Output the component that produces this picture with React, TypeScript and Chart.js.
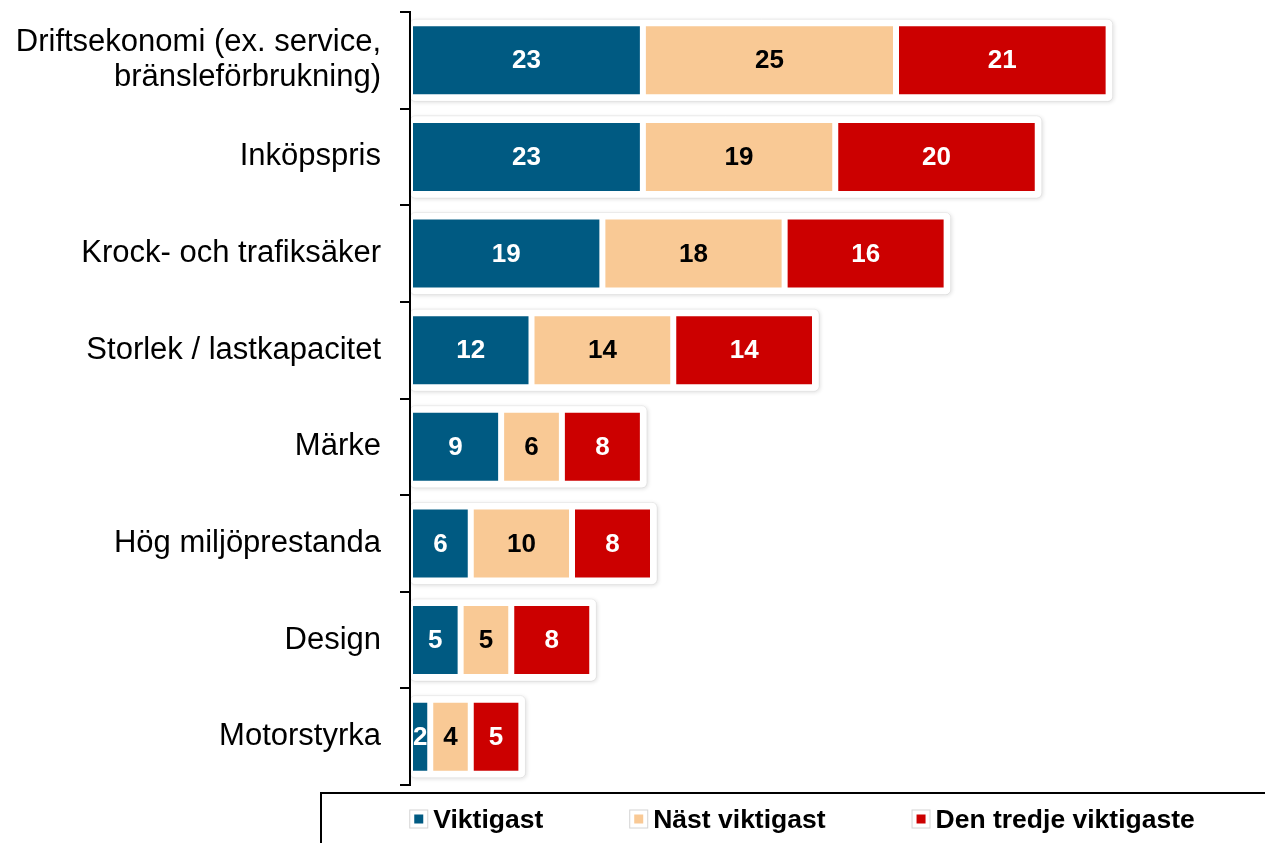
import React, { useEffect, useRef } from 'react';
import { Chart, registerables } from 'chart.js';

Chart.register(...registerables);

const categories: (string | string[])[] = [
  ['Driftsekonomi (ex. service,', 'bränsleförbrukning)'],
  'Inköpspris',
  'Krock- och trafiksäker',
  'Storlek / lastkapacitet',
  'Märke',
  'Hög miljöprestanda',
  'Design',
  'Motorstyrka',
];
const viktigast = [23, 23, 19, 12, 9, 6, 5, 2];
const nastViktigast = [25, 19, 18, 14, 6, 10, 5, 4];
const tredjeViktigaste = [21, 20, 16, 14, 8, 8, 8, 5];
const seriesLabels = ['Viktigast', 'Näst viktigast', 'Den tredje viktigaste'];
const seriesColors = ['#005A82', '#F9C995', '#CC0000'];
const valueLabelColors = ['#ffffff', '#000000', '#ffffff'];

const FONT = '"Liberation Sans", Arial, Helvetica, sans-serif';

const groupShadow = {
  id: 'groupShadow',
  beforeDatasetsDraw(chart: any) {
    const ctx = chart.ctx;
    const xs = chart.scales.x;
    const ys = chart.scales.y;
    const n = chart.data.datasets.length;
    const meta = chart.getDatasetMeta(n - 1);
    ctx.save();
    meta.data.forEach((el: any, i: number) => {
      const total = chart.data.datasets.reduce((s: number, d: any) => s + (d.data[i] as number), 0);
      const x0 = xs.getPixelForValue(0);
      const x1 = xs.getPixelForValue(total) + 4;
      const h = el.height;
      const yc = ys.getPixelForValue(i);
      ctx.beginPath();
      ctx.roundRect(x0, yc - h / 2 - 4, x1 - x0, h + 8, 5);
      ctx.shadowColor = 'rgba(0,0,0,0.14)';
      ctx.shadowBlur = 4;
      ctx.shadowOffsetX = 1;
      ctx.shadowOffsetY = 1;
      ctx.fillStyle = '#ffffff';
      ctx.fill();
      ctx.shadowColor = 'transparent';
      ctx.strokeStyle = 'rgba(0,0,0,0.06)';
      ctx.lineWidth = 1;
      ctx.stroke();
    });
    ctx.restore();
  },
};

const valueLabels = {
  id: 'valueLabels',
  afterDatasetsDraw(chart: any) {
    const ctx = chart.ctx;
    ctx.save();
    ctx.font = `bold 26px ${FONT}`;
    ctx.textAlign = 'center';
    ctx.textBaseline = 'middle';
    chart.data.datasets.forEach((ds: any, di: number) => {
      const meta = chart.getDatasetMeta(di);
      meta.data.forEach((el: any, i: number) => {
        const p = el.getProps(['x', 'y', 'base'], true);
        ctx.fillStyle = valueLabelColors[di];
        ctx.fillText(String(ds.data[i]), (p.x + p.base) / 2, p.y + 1);
      });
    });
    ctx.restore();
  },
};

const boxLegend = {
  id: 'boxLegend',
  afterDraw(chart: any) {
    const ctx = chart.ctx;
    const top = chart.chartArea.bottom + 8;
    const left = 321;
    ctx.save();
    ctx.strokeStyle = '#000000';
    ctx.lineWidth = 2;
    ctx.beginPath();
    ctx.moveTo(left, chart.height + 2);
    ctx.lineTo(left, top);
    ctx.lineTo(chart.width + 2, top);
    ctx.stroke();

    ctx.font = `bold 26.5px ${FONT}`;
    const boxSize = 19;
    const textGap = 5;
    const itemGap = 86;
    const widths = chart.data.datasets.map((d: any) => boxSize + textGap + ctx.measureText(d.label).width);
    const total = widths.reduce((a: number, b: number) => a + b, 0) + itemGap * (widths.length - 1);
    const center = 802;
    let x = center - total / 2;
    const yc = 819;
    chart.data.datasets.forEach((d: any, i: number) => {
      ctx.fillStyle = '#ffffff';
      ctx.fillRect(x, yc - boxSize / 2, boxSize, boxSize);
      ctx.strokeStyle = '#d4d4d4';
      ctx.lineWidth = 1;
      ctx.strokeRect(x + 0.5, yc - boxSize / 2 + 0.5, boxSize - 1, boxSize - 1);
      ctx.fillStyle = d.backgroundColor;
      ctx.fillRect(x + 5, yc - 4.5, 9, 9);
      ctx.fillStyle = '#000000';
      ctx.textAlign = 'left';
      ctx.textBaseline = 'alphabetic';
      ctx.fillText(d.label, x + boxSize + textGap, yc + 9);
      x += widths[i] + itemGap;
    });
    ctx.restore();
  },
};

export default function App() {
  const ref = useRef<HTMLCanvasElement | null>(null);

  useEffect(() => {
    document.body.style.margin = '0';
    const canvas = ref.current;
    if (!canvas) return;
    const seriesData = [viktigast, nastViktigast, tredjeViktigaste];
    const chart = new Chart(canvas, {
      type: 'bar',
      data: {
        labels: categories,
        datasets: seriesData.map((data, i) => ({
          label: seriesLabels[i],
          data,
          backgroundColor: seriesColors[i],
          borderColor: '#ffffff',
          borderWidth: 3,
          borderSkipped: false,
          categoryPercentage: 1,
          barPercentage: 0.766,
        })),
      },
      options: {
        indexAxis: 'y',
        responsive: false,
        animation: false,
        layout: { padding: { left: 0, right: 45, top: 12, bottom: 58 } },
        plugins: {
          legend: { display: false },
          tooltip: { enabled: false },
        },
        scales: {
          x: {
            stacked: true,
            display: false,
            min: 0,
            max: 80,
          },
          y: {
            stacked: true,
            afterFit: (scale: any) => {
              scale.width = 410;
              scale.paddingTop = 0;
              scale.paddingBottom = 0;
            },
            grid: {
              display: true,
              drawOnChartArea: false,
              drawTicks: true,
              tickLength: 10,
              color: '#000000',
              lineWidth: 2,
              offset: true,
            },
            border: { display: true, color: '#000000', width: 2, z: 1 },
            ticks: {
              color: '#000000',
              padding: 19,
              font: { family: FONT, size: 31, lineHeight: 1.13 },
            },
          },
        },
      },
      plugins: [groupShadow, valueLabels, boxLegend],
    });
    return () => chart.destroy();
  }, []);

  return (
    <div style={{ width: 1265, height: 843 }}>
      <canvas ref={ref} width={1265} height={843} style={{ display: 'block' }} />
    </div>
  );
}
